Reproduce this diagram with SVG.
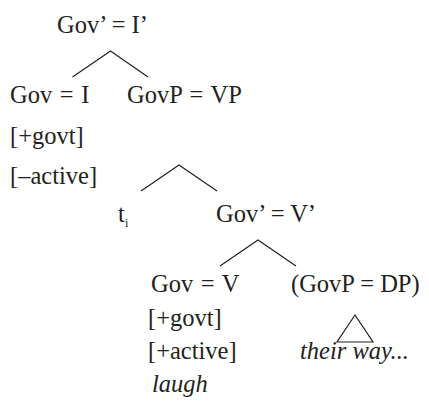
<svg xmlns="http://www.w3.org/2000/svg" width="429" height="413" viewBox="0 0 429 413">
<style>
text { font-family: "Liberation Serif", "Times New Roman", Times, serif; font-size: 24.5px; fill: #231f20; }
.it { font-style: italic; }
.sub { font-size: 12px; }
.ws { word-spacing: 1.5px; }
.edge { stroke: #231f20; stroke-width: 1.2; fill: none; }
</style>
<rect width="429" height="413" fill="#ffffff"/>
<g id="connectors">
<polyline class="edge" points="72.5,77 110.5,51 148,77"/>
<polyline class="edge" points="141,191 179,165 217,191"/>
<polyline class="edge" points="220,266 258,240 296,266"/>
<polygon class="edge" points="355,315 337,342 373,342"/>
</g>
<g id="n-govbar-i"><text x="57" y="33">Gov’ = I’</text></g>
<g id="n-gov-i">
<text class="ws" x="10" y="103">Gov = I</text>
<text x="10" y="144">[+govt]</text>
<text x="10" y="184">[–active]</text>
</g>
<g id="n-govp-vp"><text class="ws" x="127" y="103">GovP = VP</text></g>
<g id="n-trace"><text x="118" y="222">t</text><text class="sub" x="125" y="227">i</text></g>
<g id="n-govbar-v"><text x="216" y="222">Gov’ = V’</text></g>
<g id="n-gov-v">
<text class="ws" x="151" y="292">Gov = V</text>
<text x="148" y="326">[+govt]</text>
<text x="148" y="359">[+active]</text>
<text class="it" x="152" y="392">laugh</text>
</g>
<g id="n-govp-dp">
<text x="291" y="292">(GovP = DP)</text>
<text class="it" x="300" y="359">their way...</text>
</g>
</svg>
